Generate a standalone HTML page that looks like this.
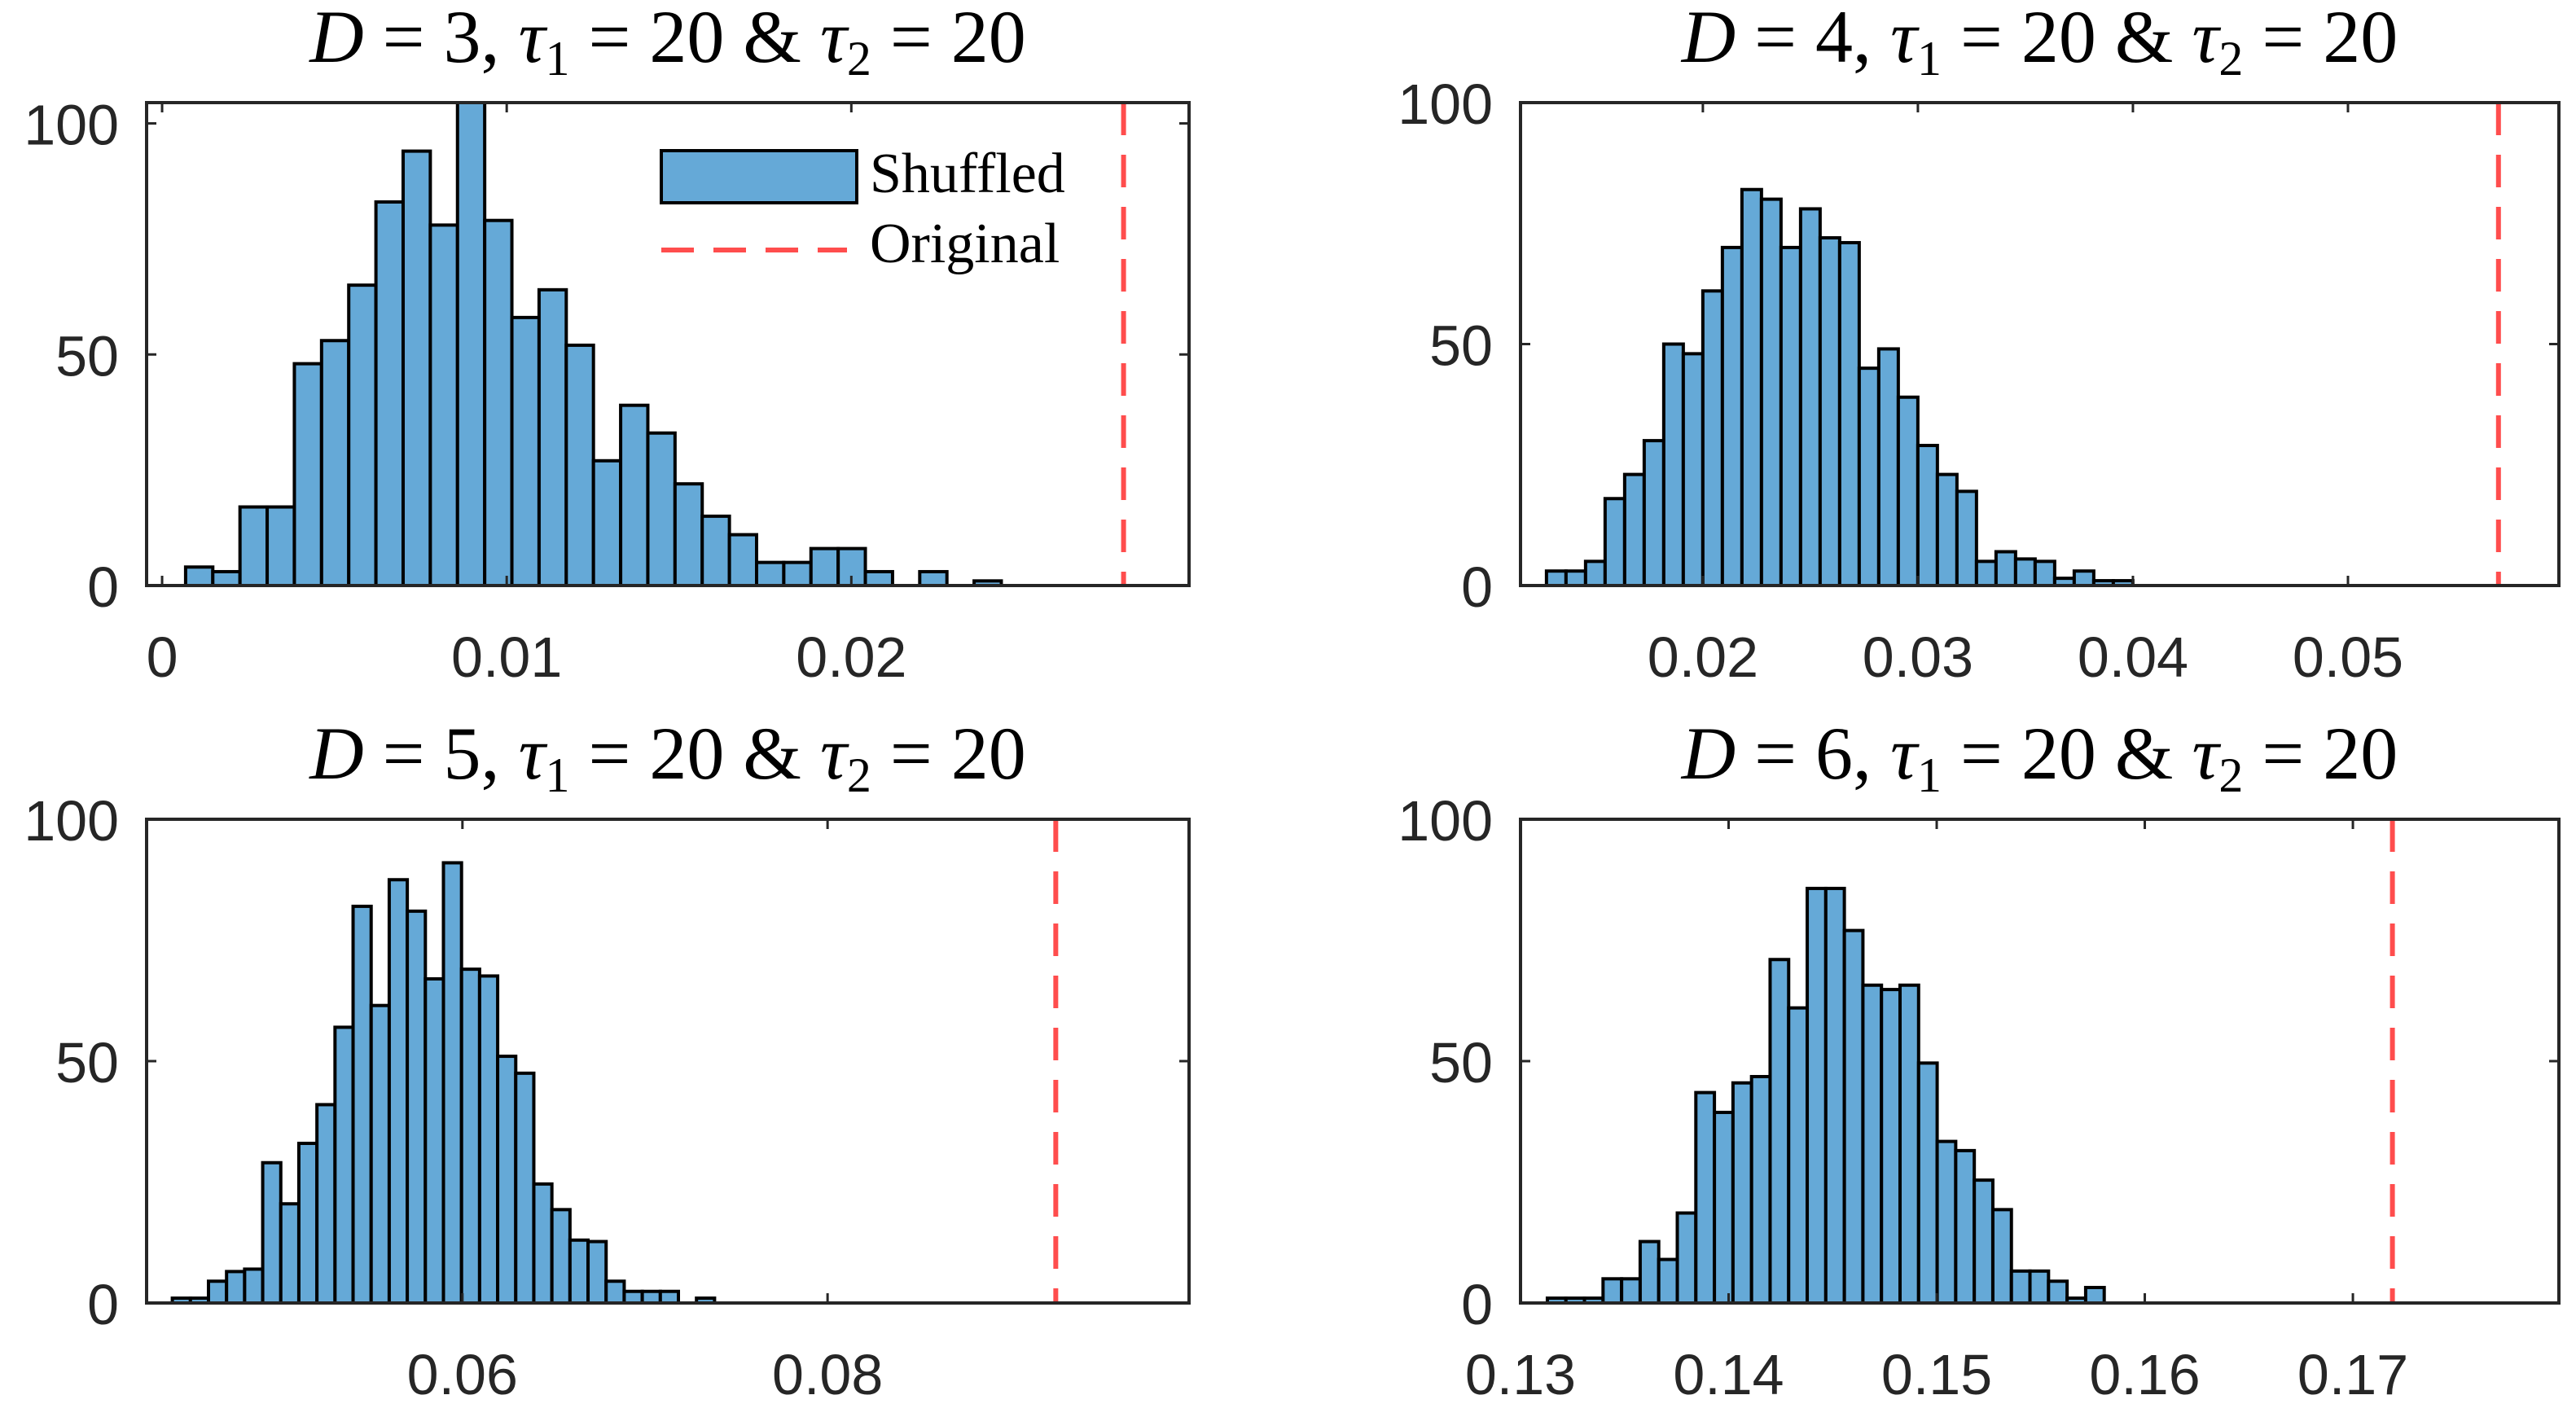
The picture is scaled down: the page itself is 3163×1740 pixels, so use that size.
<!DOCTYPE html>
<html><head><meta charset="utf-8"><style>
html,body{margin:0;padding:0;background:#fff;}
svg{display:block;}
.tick{font-family:"Liberation Sans",sans-serif;font-size:70px;fill:#262626;}
.title{font-family:"Liberation Serif",serif;font-size:92px;fill:#000;}
.leg{font-family:"Liberation Serif",serif;font-size:70px;fill:#000;}
</style></head><body>
<svg id="fig" width="3163" height="1740" viewBox="0 0 3163 1740" xmlns="http://www.w3.org/2000/svg"></svg>
<script>
// Panel 1: D=3
const countsD3 = [4,3,17,17,48,53,65,83,94,78,106,79,58,64,52,27,39,33,22,15,11,5,5,8,8,3,0,3,0,1];
const startD3 = 0.000682, widthD3 = 0.000789, originalD3 = 0.0279;
const ticksD3 = [0, 0.01, 0.02];
const tickLabelsD3 = ["0","0.01","0.02"];
// Panel 2: D=4
const countsD4 = [3,3,5,18,23,30,50,48,61,70,82,80,70,78,72,71,45,49,39,29,23,19.5,5,7,5.5,5,1.5,3,1,1];
const startD4 = 0.012727, widthD4 = 0.000909, originalD4 = 0.0570;
const ticksD4 = [0.02,0.03,0.04,0.05];
const tickLabelsD4 = ["0.02","0.03","0.04","0.05"];
// Panel 3: D=5
const countsD5 = [1,1,4.5,6.5,7,29,20.5,33,41,57,82,61.5,87.5,81,67,91,69,67.6,51,47.5,24.6,19.3,13,12.7,4.5,2.4,2.4,2.4,0,1];
const startD5 = 0.04411, widthD5 = 0.00099, originalD5 = 0.0925;
const ticksD5 = [0.06,0.08];
const tickLabelsD5 = ["0.06","0.08"];
// Panel 4: D=6
const countsD6 = [1,1,1,5,5,12.7,9,18.6,43.5,39.4,45.5,46.8,71,61,85.7,85.7,77,65.7,64.8,65.7,49.6,33.4,31.5,25.4,19.3,6.6,6.6,4.5,1,3.2];
const startD6 = 0.13129, widthD6 = 0.000892, originalD6 = 0.1719;
const ticksD6 = [0.13,0.14,0.15,0.16,0.17];
const tickLabelsD6 = ["0.13","0.14","0.15","0.16","0.17"];
const yTicks = [0,50,100];
const yTickLabels = ["0","50","100"];

const NS = "http://www.w3.org/2000/svg";
const svg = document.getElementById('fig');
function mk(tag, attrs, parent){
  const e = document.createElementNS(NS, tag);
  for (const k in attrs) e.setAttribute(k, attrs[k]);
  (parent||svg).appendChild(e);
  return e;
}
const panels = [
  {D:3, L:180, R:1460, T:126, B:719, xmin:-0.00045, xmax:0.0298, ymax:104.5, counts:countsD3, start:startD3, w:widthD3, orig:originalD3, ticks:ticksD3, labels:tickLabelsD3, legend:true},
  {D:4, L:1867, R:3142, T:126, B:719, xmin:0.01152, xmax:0.05981, ymax:100, counts:countsD4, start:startD4, w:widthD4, orig:originalD4, ticks:ticksD4, labels:tickLabelsD4},
  {D:5, L:180, R:1460, T:1006, B:1600, xmin:0.0427, xmax:0.0998, ymax:100, counts:countsD5, start:startD5, w:widthD5, orig:originalD5, ticks:ticksD5, labels:tickLabelsD5},
  {D:6, L:1867, R:3142, T:1006, B:1600, xmin:0.13, xmax:0.1799, ymax:100, counts:countsD6, start:startD6, w:widthD6, orig:originalD6, ticks:ticksD6, labels:tickLabelsD6}
];
panels.forEach((p, pi) => {
  const g = mk('g', {});
  
  
  const X = v => p.L + (v - p.xmin) / (p.xmax - p.xmin) * (p.R - p.L);
  const Y = v => p.B - Math.min(v, p.ymax) / p.ymax * (p.B - p.T);
  const cid = 'clip' + pi;
  const cp = mk('clipPath', {id: cid}, g);
  mk('rect', {x:p.L, y:p.T, width:p.R-p.L, height:p.B-p.T}, cp);
  const bars = mk('g', {'clip-path':'url(#'+cid+')'}, g);
  p.counts.forEach((c, i) => {
    const x0 = X(p.start + i*p.w), x1 = X(p.start + (i+1)*p.w);
    const r = mk('rect', {x:x0, y:Y(c), width:x1-x0, height:p.B-Y(c), fill:'#65a9d7', stroke:'#000', 'stroke-width':4}, bars);
    
    
  });
  p.ticks.forEach((t, i) => {
    const x = X(t);
    mk('line', {x1:x, x2:x, y1:p.B, y2:p.B-12, stroke:'#262626', 'stroke-width':3}, g);
    mk('line', {x1:x, x2:x, y1:p.T, y2:p.T+12, stroke:'#262626', 'stroke-width':3}, g);
    const tx = mk('text', {x:x, y:p.B+112, 'text-anchor':'middle', class:'tick'}, g);
    tx.textContent = p.labels[i];
    
    
  });
  yTicks.forEach((t, i) => {
    const y = p.B - t / p.ymax * (p.B - p.T);
    mk('line', {x1:p.L, x2:p.L+12, y1:y, y2:y, stroke:'#262626', 'stroke-width':3}, g);
    mk('line', {x1:p.R, x2:p.R-12, y1:y, y2:y, stroke:'#262626', 'stroke-width':3}, g);
    const tx = mk('text', {x:p.L-34, y:y+26, 'text-anchor':'end', class:'tick'}, g);
    tx.textContent = yTickLabels[i];
    
    
  });
  const ox = X(p.orig);
  const ol = mk('line', {x1:ox, x2:ox, y1:p.T, y2:p.B, stroke:'#ff4d4d', 'stroke-width':6, 'stroke-dasharray':'40 24'}, g);
  
  
  const bx = mk('rect', {x:p.L, y:p.T, width:p.R-p.L, height:p.B-p.T, fill:'none', stroke:'#262626', 'stroke-width':4}, g);
  
  
  const tt = mk('text', {x:(p.L+p.R)/2, y:p.T-50, 'text-anchor':'middle', class:'title'}, g);
  tt.innerHTML = '<tspan font-style="italic">D</tspan> = ' + p.D + ', <tspan font-style="italic">τ</tspan><tspan font-size="60" dy="16">1</tspan><tspan dy="-16"> = 20 &amp; </tspan><tspan font-style="italic">τ</tspan><tspan font-size="60" dy="16">2</tspan><tspan dy="-16"> = 20</tspan>';
  
  
  if (p.legend) {
    const lg = mk('g', {}, g);
    
    
    mk('rect', {x:812, y:185, width:240, height:64, fill:'#65a9d7', stroke:'#000', 'stroke-width':4}, lg);
    const t1 = mk('text', {x:1068, y:236, class:'leg'}, lg); t1.textContent = 'Shuffled';
    mk('line', {x1:812, x2:1040, y1:307, y2:307, stroke:'#ff4d4d', 'stroke-width':6, 'stroke-dasharray':'40 24'}, lg);
    const t2 = mk('text', {x:1068, y:322, class:'leg'}, lg); t2.textContent = 'Original';
  }
});
</script>
</body></html>
